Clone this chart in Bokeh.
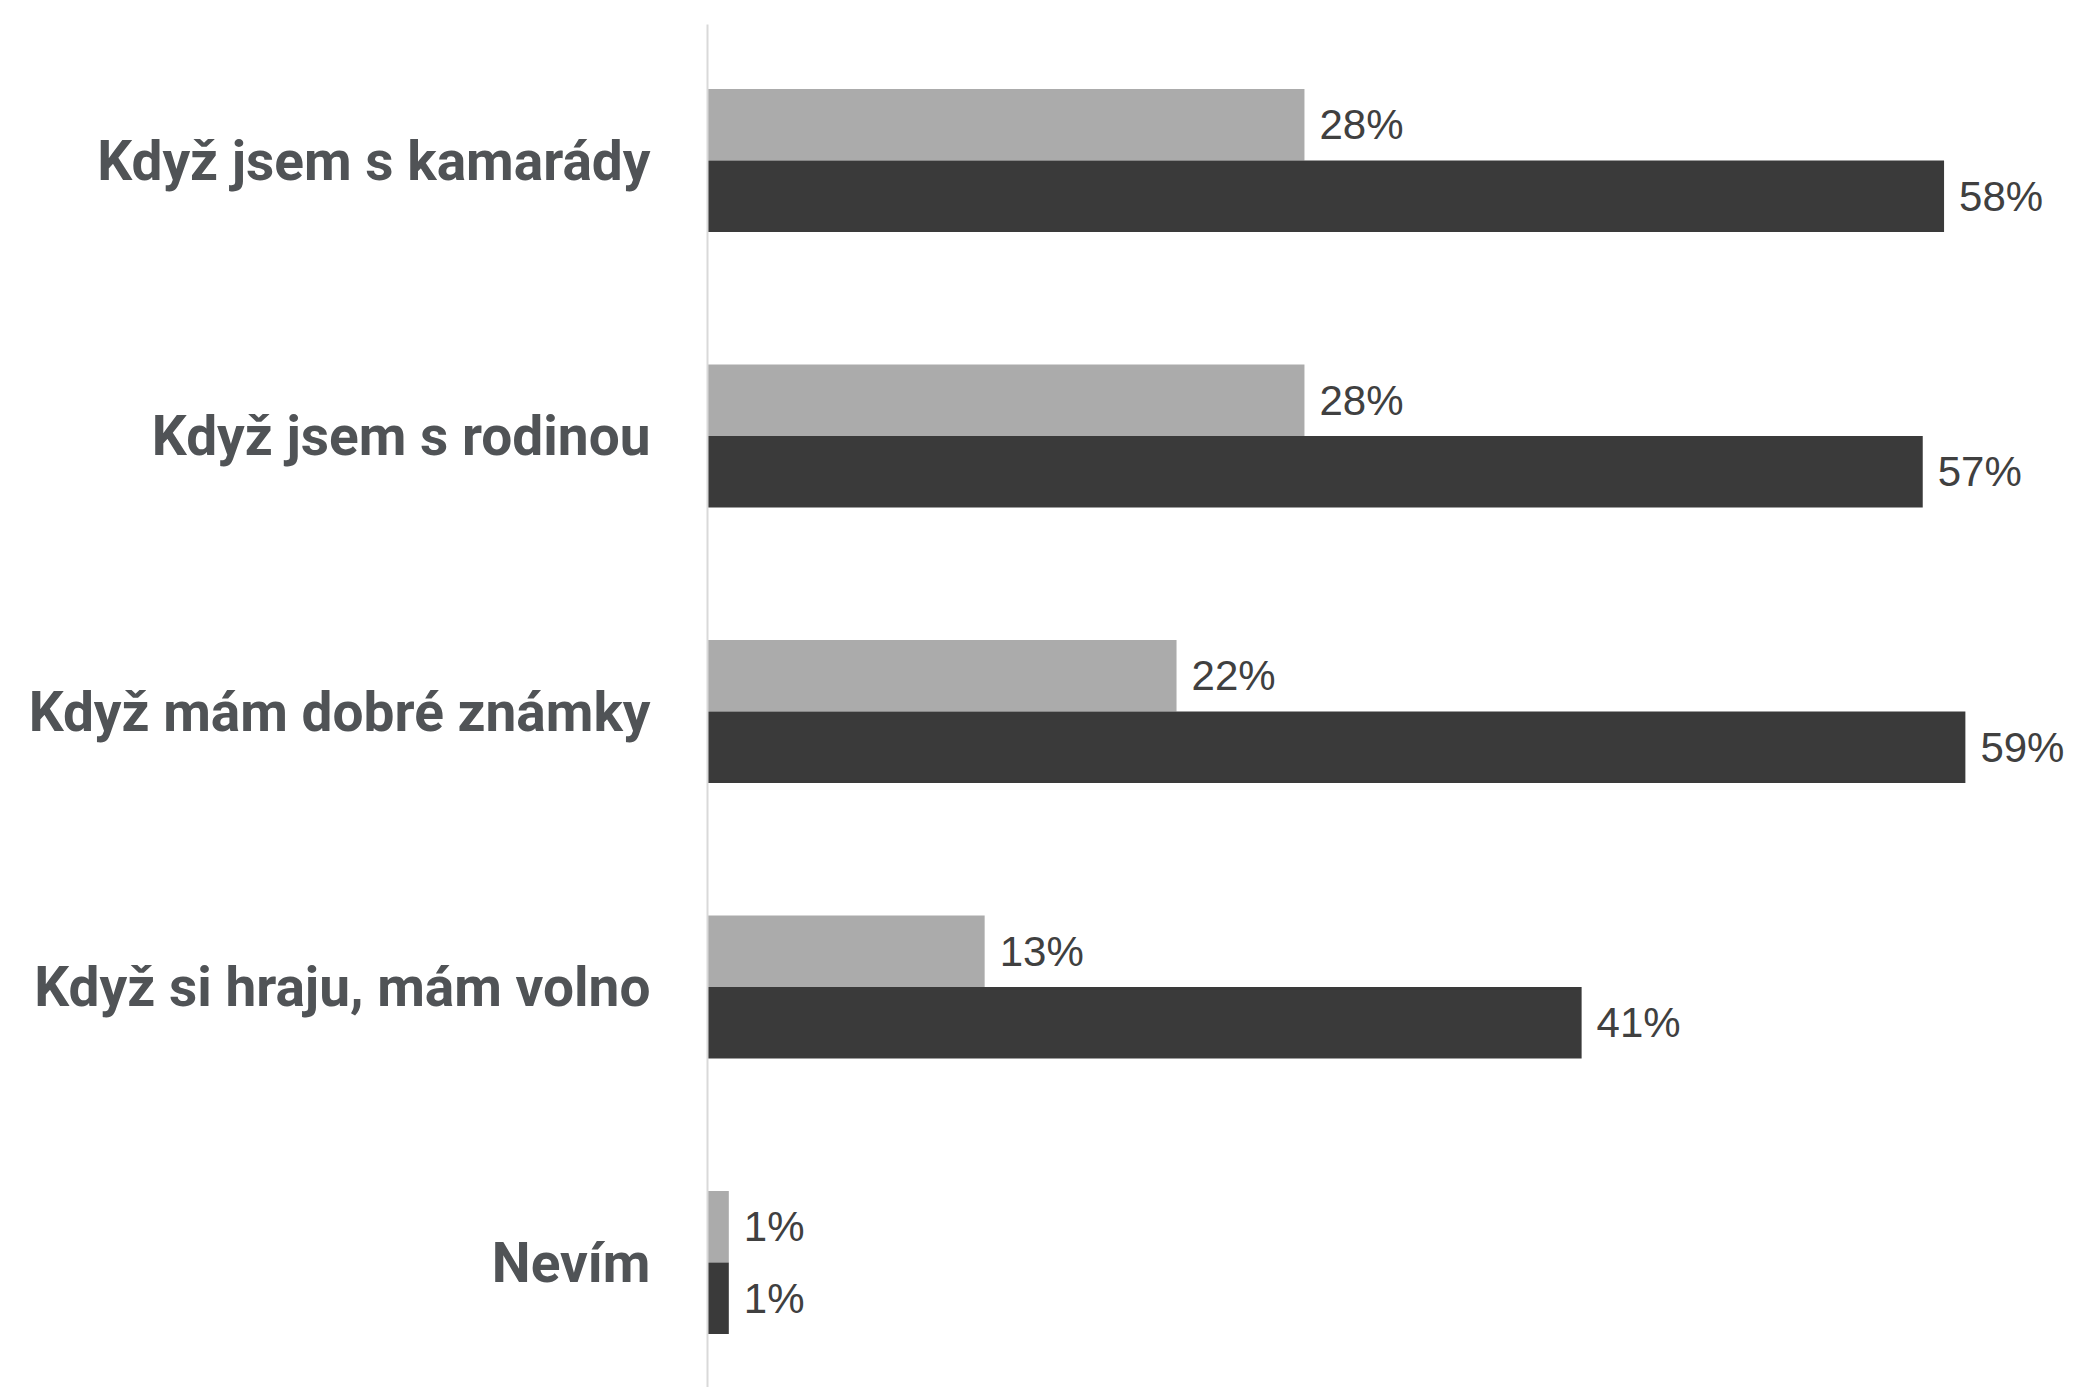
from bokeh.plotting import figure
from bokeh.models import ColumnDataSource, Range1d, FixedTicker
from bokeh.core.properties import value
from bokeh.transform import dodge
from bokeh.embed import file_html
from bokeh.resources import INLINE

categories = ["Když jsem s kamarády", "Když jsem s rodinou", "Když mám dobré známky",
              "Když si hraju, mám volno", "Nevím"]
series_light = [28, 28, 22, 13, 1]
series_dark = [58, 57, 59, 41, 1]

pos = list(range(len(categories)))
src = ColumnDataSource(dict(
    y=pos,
    light=series_light,
    dark=series_dark,
    light_lbl=[f"{v}%" for v in series_light],
    dark_lbl=[f"{v}%" for v in series_dark],
))

W, H = 2067, 1387
LEFT, TOP = 707, 24
PX_PER_PCT = 21.32
UNIT = 275.5
C0 = 160

p = figure(width=W, height=H, output_backend="svg", toolbar_location=None,
           x_range=Range1d(0, (W - LEFT) / PX_PER_PCT),
           y_range=Range1d((H - C0) / UNIT, -(C0 - TOP) / UNIT),
           x_axis_location=None,
           min_border_left=LEFT, min_border_right=0, min_border_top=TOP, min_border_bottom=0)
p.outline_line_color = None
p.xgrid.visible = False
p.ygrid.visible = False
p.background_fill_color = "white"
p.border_fill_color = "white"

bh = 0.2595
p.hbar(y=dodge("y", -bh / 2, range=p.y_range), right="light", left=0, height=bh,
       source=src, fill_color="#ababab", line_color=None)
p.hbar(y=dodge("y", bh / 2, range=p.y_range), right="dark", left=0, height=bh,
       source=src, fill_color="#3a3a3a", line_color=None)

p.text(x="light", y=dodge("y", -bh / 2, range=p.y_range), text="light_lbl", source=src,
       x_offset=15, text_baseline="middle", text_align="left",
       text_font=value("Liberation Sans"), text_font_size="42px", text_color="#404040")
p.text(x="dark", y=dodge("y", bh / 2, range=p.y_range), text="dark_lbl", source=src,
       x_offset=15, text_baseline="middle", text_align="left",
       text_font=value("Liberation Sans"), text_font_size="42px", text_color="#404040")

ax = p.yaxis[0]
ax.ticker = FixedTicker(ticks=pos)
ax.major_label_overrides = {i: c for i, c in zip(pos, categories)}
ax.axis_line_color = "#d9d9d9"
ax.axis_line_width = 2
ax.major_tick_line_color = None
ax.minor_tick_line_color = None
ax.major_tick_in = 0
ax.major_tick_out = 0
ax.minor_tick_in = 0
ax.minor_tick_out = 0
ax.major_label_standoff = 57
ax.major_label_text_font = "Roboto"
ax.major_label_text_font_style = "bold"
ax.major_label_text_font_size = "55px"
ax.major_label_text_color = "#505356"

open("out.html", "w").write(file_html(p, INLINE))
